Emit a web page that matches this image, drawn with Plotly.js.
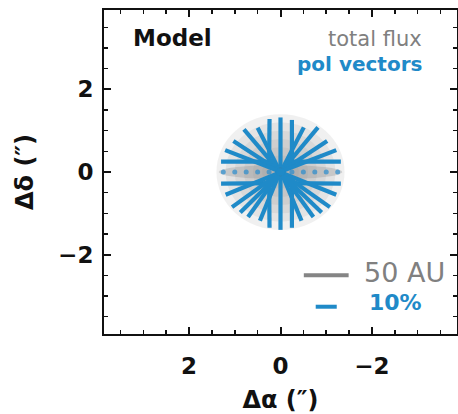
<!DOCTYPE html>
<html>
<head>
<meta charset="utf-8">
<script src="https://cdn.plot.ly/plotly-3.0.1.min.js"></script>
<style>html,body{margin:0;padding:0;background:#fff;}#chart{width:458px;height:414px;}</style>
</head>
<body>
<div id="chart"></div>
<script>
// ---- data (offsets in arcsec) ----
// polarisation vector strands: start and end points
var polX0 = [0, 0, 0.25, -0.25, 0.25, -0.25, 0.12, -0.12, 0.12, -0.12, 0.05, -0.05, 0.05, -0.05, 0.05, -0.05, 0.05, -0.05, 0.05, -0.05, 0.05, -0.05, 0.05, -0.05, 0.05, -0.05, 0.05, -0.05];
var polY0 = [0.1, -0.1, 0.12, 0.12, -0.12, -0.12, 0.25, 0.25, -0.27, -0.27, 0.1, 0.1, 0.06, 0.06, 0.04, 0.04, 0.03, 0.03, -0.03, -0.03, -0.05, -0.05, -0.07, -0.07, -0.1, -0.1, -0.08, -0.08];
var polX1 = [0, 0, 0.24, -0.25, 0.24, -0.25, 1.30, -1.32, 1.30, -1.32, 0.50, -0.51, 0.80, -0.82, 1.03, -1.02, 1.21, -1.22, 1.20, -1.22, 1.06, -1.08, 0.71, -0.72, 0.45, -0.46, 0.88, -0.9];
var polY1 = [1.32, -1.40, 1.28, 1.26, -1.35, -1.35, 0.25, 0.25, -0.28, -0.28, 1.07, 1.08, 1.03, 1.08, 0.75, 0.75, 0.53, 0.53, -0.55, -0.55, -0.85, -0.85, -1.09, -1.09, -1.18, -1.18, -0.98, -0.98];
// unpolarised midplane grid points
var midX = [-1.25, -1.0, -0.75, -0.5, -0.25, 0.25, 0.5, 0.75, 1.0, 1.25];
var midY = [0, 0, 0, 0, 0, 0, 0, 0, 0, 0];
// total-flux blob: ring radii and the midplane band
var fluxRadii = [1.4, 1.2, 1.0, 0.8, 0.6, 0.4];
var fluxBandHalfWidth = 1.35;
var fluxBandHalfHeight = 0.17;
var fluxCoreRadius = 0.12;
// scale bars
var bar50AUx = [-0.51, -1.49];
var bar50AUy = [-2.50, -2.50];
var bar10x = [-0.77, -1.23];
var bar10y = [-3.26, -3.26];
// ticks
var tickVals = [-2, 0, 2];
var tickText = ['\u22122', '0', '2'];

var BLUE = '#1f8ac8';
var FONT = 'DejaVu Sans';

// build vector strands as one line trace with gaps
var sx = [], sy = [];
for (var i = 0; i < polX0.length; i++) {
  sx.push(polX0[i], polX1[i], null);
  sy.push(polY0[i], polY1[i], null);
}

var traces = [
  {x: sx, y: sy, mode: 'lines', type: 'scatter', line: {color: BLUE, width: 4.2}, hoverinfo: 'skip', connectgaps: false},
  {x: midX, y: midY, mode: 'markers', type: 'scatter', marker: {color: 'rgba(40,140,205,0.7)', size: 5}, hoverinfo: 'skip'},
  {x: [0], y: [0], mode: 'markers', type: 'scatter', marker: {color: BLUE, size: 8}, hoverinfo: 'skip'},
  {x: bar50AUx, y: bar50AUy, mode: 'lines', type: 'scatter', line: {color: '#858585', width: 4}, hoverinfo: 'skip'},
  {x: bar10x, y: bar10y, mode: 'lines', type: 'scatter', line: {color: BLUE, width: 4}, hoverinfo: 'skip'}
];

var shapes = [];
fluxRadii.forEach(function (r) {
  shapes.push({type: 'circle', xref: 'x', yref: 'y', x0: -r, x1: r, y0: -r, y1: r,
    fillcolor: 'rgba(150,150,150,0.14)', line: {width: 0}, layer: 'below'});
});
shapes.push({type: 'circle', xref: 'x', yref: 'y', x0: -fluxBandHalfWidth, x1: fluxBandHalfWidth,
  y0: -fluxBandHalfHeight, y1: fluxBandHalfHeight, fillcolor: 'rgba(140,140,140,0.3)', line: {width: 0}, layer: 'below'});
shapes.push({type: 'circle', xref: 'x', yref: 'y', x0: -fluxCoreRadius, x1: fluxCoreRadius,
  y0: -fluxCoreRadius, y1: fluxCoreRadius, fillcolor: 'rgba(50,50,50,0.6)', line: {width: 0}, layer: 'below'});

var axisCommon = {
  showgrid: false, zeroline: false, showline: true, linecolor: '#111', linewidth: 2,
  mirror: 'allticks', ticks: 'inside', ticklen: 7, tickwidth: 2, tickcolor: '#111',
  automargin: false,
  tickvals: tickVals, ticktext: tickText,
  tickfont: {family: FONT, size: 23, color: '#111', weight: 'bold'},
  minor: {dtick: 0.5, ticks: 'inside', ticklen: 4, tickwidth: 1.5, tickcolor: '#111'}
};

var layout = {
  width: 458, height: 414,
  margin: {l: 104, r: 1, t: 10, b: 80, autoexpand: false},
  paper_bgcolor: '#fff', plot_bgcolor: '#fff',
  showlegend: false,
  xaxis: Object.assign({}, axisCommon, {range: [3.86, -3.86], ticklabelstandoff: 10,
    title: {text: '\u0394\u03b1 (\u2033)', font: {family: FONT, size: 24, color: '#111', weight: 'bold'}, standoff: 26}}),
  yaxis: Object.assign({}, axisCommon, {range: [-3.92, 3.92], ticklabelstandoff: 4,
    title: {text: '\u0394\u03b4 (\u2033)', font: {family: FONT, size: 24, color: '#111', weight: 'bold'}, standoff: 18}}),
  shapes: shapes,
  annotations: [
    {x: 3.27, y: 3.24, xref: 'x', yref: 'y', text: 'Model', showarrow: false, xanchor: 'left', yanchor: 'middle',
      font: {family: FONT, size: 23, color: '#111', weight: 'bold'}},
    {x: -3.13, y: 3.22, xref: 'x', yref: 'y', text: 'total flux', showarrow: false, xanchor: 'right', yanchor: 'middle',
      font: {family: FONT, size: 21, color: '#808080'}},
    {x: -3.13, y: 2.62, xref: 'x', yref: 'y', text: 'pol vectors', showarrow: false, xanchor: 'right', yanchor: 'middle',
      font: {family: FONT, size: 20, color: BLUE, weight: 'bold'}},
    {x: -1.78, y: -2.43, xref: 'x', yref: 'y', text: '50 AU', showarrow: false, xanchor: 'left', yanchor: 'middle',
      font: {family: FONT, size: 27, color: '#808080'}},
    {x: -1.89, y: -3.16, xref: 'x', yref: 'y', text: '10%', showarrow: false, xanchor: 'left', yanchor: 'middle',
      font: {family: FONT, size: 22, color: BLUE, weight: 'bold'}}
  ]
};

Plotly.newPlot('chart', traces, layout, {staticPlot: true, displayModeBar: false});
</script>
</body>
</html>
